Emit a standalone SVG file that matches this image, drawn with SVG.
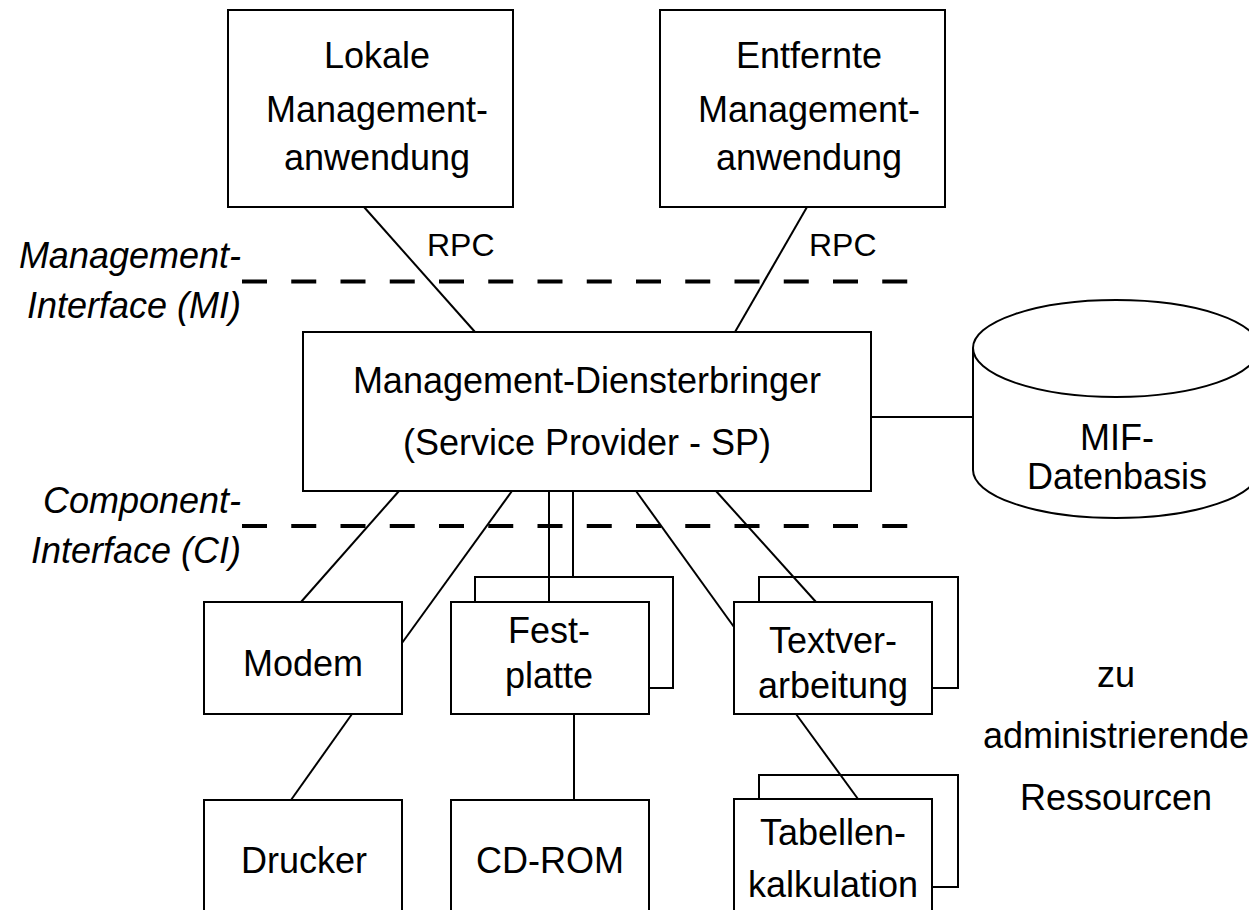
<svg xmlns="http://www.w3.org/2000/svg" width="1249" height="910" viewBox="0 0 1249 910">
<style>
  .box{fill:#fff;stroke:#000;stroke-width:2}
  .ln{stroke:#000;stroke-width:2;fill:none}
  .dash{stroke:#000;stroke-width:4;stroke-dasharray:25 24.25;fill:none}
  text{font-family:"Liberation Sans",Arial,Helvetica,sans-serif;font-size:36px;fill:#000;text-anchor:middle}
  .it{font-style:italic;text-anchor:end}
  .rpc{font-size:32px;text-anchor:start}
</style>
<rect width="1249" height="910" fill="#fff"/>

<g id="interfaces">
  <line class="dash" x1="242" y1="281.5" x2="908" y2="281.5"/>
  <line class="dash" x1="242" y1="526" x2="908" y2="526"/>
  <text class="it" x="241" y="268">Management-</text>
  <text class="it" x="241" y="318">Interface (MI)</text>
  <text class="it" x="241" y="513">Component-</text>
  <text class="it" x="241" y="563">Interface (CI)</text>
</g>

<g id="lokale">
  <rect class="box" x="228" y="10" width="285" height="197"/>
  <text x="377" y="68">Lokale</text>
  <text x="377" y="122">Management-</text>
  <text x="377" y="170">anwendung</text>
</g>

<g id="entfernte">
  <rect class="box" x="660" y="10" width="285" height="197"/>
  <text x="809" y="68">Entfernte</text>
  <text x="809" y="122">Management-</text>
  <text x="809" y="170">anwendung</text>
</g>

<g id="sp">
  <rect class="box" x="303" y="332" width="568" height="159"/>
  <text x="587" y="393">Management-Diensterbringer</text>
  <text x="587" y="455">(Service Provider - SP)</text>
</g>

<g id="mif">
  <path class="box" d="M973,348 L973,470 A143,48 0 0 0 1259,470 L1259,348 A143,48 0 0 0 973,348 Z"/>
  <path class="ln" d="M973,348 A143,49 0 0 0 1259,348"/>
  <text x="1117" y="450">MIF-</text>
  <text x="1117" y="489">Datenbasis</text>
</g>

<g id="modem">
  <rect class="box" x="204" y="602" width="198" height="112"/>
  <text x="303" y="676">Modem</text>
</g>

<g id="drucker">
  <rect class="box" x="204" y="800" width="198" height="130"/>
  <text x="304" y="873">Drucker</text>
</g>

<g id="festplatte">
  <rect class="box" x="475" y="577" width="198" height="111"/>
  <rect class="box" x="451" y="602" width="198" height="112"/>
  <text x="549" y="643">Fest-</text>
  <text x="549" y="688">platte</text>
</g>

<g id="cdrom">
  <rect class="box" x="451" y="800" width="198" height="130"/>
  <text x="550" y="873">CD-ROM</text>
</g>

<g id="textverarbeitung">
  <rect class="box" x="759" y="577" width="199" height="111"/>
  <rect class="box" x="734" y="602" width="198" height="112"/>
  <text x="833" y="653">Textver-</text>
  <text x="833" y="698">arbeitung</text>
</g>

<g id="tabellenkalkulation">
  <rect class="box" x="759" y="775" width="199" height="112"/>
  <rect class="box" x="734" y="799" width="198" height="130"/>
  <text x="833" y="845">Tabellen-</text>
  <text x="833" y="897">kalkulation</text>
</g>

<g id="ressourcen-label">
  <text x="1116" y="687">zu</text>
  <text x="1116" y="748">administrierende</text>
  <text x="1116" y="810">Ressourcen</text>
</g>

<g id="connectors">
  <line class="ln" x1="364" y1="207" x2="475" y2="332"/>
  <line class="ln" x1="807" y1="207" x2="735" y2="332"/>
  <text class="rpc" x="427" y="256">RPC</text>
  <text class="rpc" x="809" y="256">RPC</text>
  <line class="ln" x1="871" y1="417" x2="973" y2="417"/>
  <line class="ln" x1="399" y1="491" x2="301" y2="602"/>
  <line class="ln" x1="512" y1="491" x2="402" y2="643"/>
  <line class="ln" x1="549" y1="491" x2="549" y2="602"/>
  <line class="ln" x1="573" y1="491" x2="573" y2="577"/>
  <line class="ln" x1="636" y1="491" x2="734" y2="627"/>
  <line class="ln" x1="716" y1="491" x2="816" y2="602"/>
  <line class="ln" x1="352" y1="714" x2="291" y2="800"/>
  <line class="ln" x1="574" y1="714" x2="574" y2="800"/>
  <line class="ln" x1="796" y1="714" x2="858" y2="799"/>
</g>
</svg>
